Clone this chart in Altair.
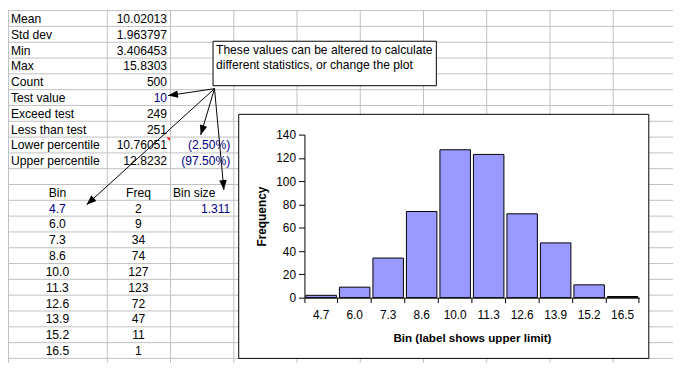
import math
import altair as alt
import pandas as pd

# ---------------- values ----------------
stat_labels = ["Mean", "Std dev", "Min", "Max", "Count", "Test value",
               "Exceed test", "Less than test", "Lower percentile", "Upper percentile"]
stat_values = ["10.02013", "1.963797", "3.406453", "15.8303", "500", "10",
               "249", "251", "10.76051", "12.8232"]
percentile_notes = ["(2.50%)", "(97.50%)"]
table_header = ["Bin", "Freq", "Bin size"]
bins = ["4.7", "6.0", "7.3", "8.6", "10.0", "11.3", "12.6", "13.9", "15.2", "16.5"]
freqs = [2, 9, 34, 74, 127, 123, 72, 47, 11, 1]
bin_size = "1.311"
note_lines = ["These values can be altered to calculate",
              "different statistics, or change the plot"]
x_title = "Bin (label shows upper limit)"
y_title = "Frequency"
y_ticks = [0, 20, 40, 60, 80, 100, 120, 140]

# ---------------- sheet layout ----------------
FONT = "Liberation Sans"
FS = 12.25
GRID = "#c0c0c0"
NAVY = "#000080"
COL_EDGES = [8, 108, 172, 236, 300, 364, 428, 492, 556, 620]
ROW_H = 16
TOP = 8
N_ROWS = 23

PLOT_L, PLOT_T, PLOT_W, PLOT_H = 308, 134, 339, 165
SVG_W, SVG_H = 673, 355

PX = alt.Scale(domain=[PLOT_L, PLOT_L + PLOT_W], zero=False, nice=False)
PY = alt.Scale(domain=[PLOT_T, PLOT_T + PLOT_H], zero=False, nice=False, reverse=True)


def row_top(r):
    return TOP + ROW_H * r


def base(r):
    return row_top(r) + 13


def X(f):
    return alt.X(f, type="quantitative", scale=PX, axis=None)


def Y(f):
    return alt.Y(f, type="quantitative", scale=PY, axis=None)


# grid lines
vgrid = pd.DataFrame({"x": [e + 0.5 for e in COL_EDGES], "y": [8] * len(COL_EDGES),
                      "y2": [380] * len(COL_EDGES)})
hgrid = pd.DataFrame({"y": [row_top(k) + 0.5 for k in range(N_ROWS)],
                      "x": [8] * N_ROWS, "x2": [690] * N_ROWS})

vlines = alt.Chart(vgrid).mark_rule(color=GRID, strokeWidth=1).encode(
    x=X("x"), y=Y("y"), y2="y2")
hlines = alt.Chart(hgrid).mark_rule(color=GRID, strokeWidth=1).encode(
    y=Y("y"), x=X("x"), x2="x2")

# sheet text cells
left_rows, right_rows, center_rows, note_rows = [], [], [], []
for r, (lab, val) in enumerate(zip(stat_labels, stat_values)):
    left_rows.append((COL_EDGES[0] + 3, base(r), lab, "black"))
    right_rows.append((COL_EDGES[2] - 3, base(r), val, NAVY if lab == "Test value" else "black"))
for i, note in enumerate(percentile_notes):
    right_rows.append((COL_EDGES[3] - 3, base(8 + i), note, NAVY))
hdr = 11
center_rows.append(((COL_EDGES[0] + COL_EDGES[1]) / 2, base(hdr), table_header[0], "black"))
center_rows.append(((COL_EDGES[1] + COL_EDGES[2]) / 2, base(hdr), table_header[1], "black"))
left_rows.append((COL_EDGES[2] + 3, base(hdr), table_header[2], "black"))
right_rows.append((COL_EDGES[3] - 3, base(hdr + 1), bin_size, NAVY))
for i, (b, f) in enumerate(zip(bins, freqs)):
    center_rows.append(((COL_EDGES[0] + COL_EDGES[1]) / 2, base(hdr + 1 + i), b,
                        NAVY if i == 0 else "black"))
    center_rows.append(((COL_EDGES[1] + COL_EDGES[2]) / 2, base(hdr + 1 + i), str(f), "black"))

BOX = (215.5, 39.5, 441.5, 84.5)
for i, line in enumerate(note_lines):
    note_rows.append((BOX[0] + 3, 52 + 16 * i, line, "black"))


def text_layer(rows, align):
    df = pd.DataFrame(rows, columns=["x", "y", "t", "c"])
    return alt.Chart(df).mark_text(align=align, baseline="alphabetic", font=FONT,
                                   fontSize=FS).encode(
        x=X("x"), y=Y("y"), text="t:N", color=alt.Color("c:N", scale=None))


sheet_left = text_layer(left_rows, "left")
sheet_right = text_layer(right_rows, "right")
sheet_center = text_layer(center_rows, "center")
note_text = text_layer(note_rows, "left")

# comment indicator
comment = alt.Chart(pd.DataFrame({"x": [171.8], "y": [136.8]})).mark_point(
    shape="M0,0L-1,0L0,1Z", size=49, filled=True, color="#ff0000", opacity=1,
    strokeWidth=0).encode(x=X("x"), y=Y("y"))

# callout box
box = alt.Chart(pd.DataFrame({"x": [BOX[0]], "y": [BOX[1]], "x2": [BOX[2]], "y2": [BOX[3]]})).mark_rect(
    fill="white", stroke="black", strokeWidth=1).encode(x=X("x"), y=Y("y"), x2="x2", y2="y2")

# arrows
origin = (217, 87.5)
tips = [(170, 94.5), (203, 134.5), (226.5, 190), (87.5, 205)]
arr = pd.DataFrame({
    "x": [origin[0]] * len(tips), "y": [origin[1]] * len(tips),
    "x2": [t[0] for t in tips], "y2": [t[1] for t in tips],
})
arr["a"] = [(math.degrees(math.atan2(tx - origin[0], -(ty - origin[1]))) + 360) % 360
            for tx, ty in tips]
arrow_lines = alt.Chart(arr).mark_rule(color="black", strokeWidth=1).encode(
    x=X("x"), y=Y("y"), x2="x2", y2="y2")
arrow_heads = alt.Chart(arr).mark_point(
    shape="M0,0L-0.38,1L0.38,1Z", size=400, filled=True, color="black", opacity=1,
    strokeWidth=0).encode(x=X("x2"), y=Y("y2"), angle=alt.Angle("a:Q", scale=None))

# chart frame
frame = alt.Chart(pd.DataFrame({"x": [241.5], "y": [113.5], "x2": [656.5], "y2": [360.5]})).mark_rect(
    fill="white", stroke="black", strokeWidth=1).encode(x=X("x"), y=Y("y"), x2="x2", y2="y2")

# ---------------- histogram ----------------
hist = pd.DataFrame({"Bin": bins, "Freq": freqs})
XB = alt.Scale(paddingInner=0, paddingOuter=0)
YB = alt.Scale(domain=[0, 140], nice=False, zero=True)

bars = alt.Chart(hist).mark_bar(
    color="#9999ff", stroke="black", strokeWidth=1, width=alt.RelativeBandSize(band=0.91)
).encode(
    x=alt.X("Bin:N", sort=None, scale=XB,
            axis=alt.Axis(orient="bottom", labels=False, ticks=True, tickSize=5, bandPosition=0,
                          domain=True, domainColor="black", tickColor="black",
                          title=x_title, titleFontSize=11.75, titleFontWeight="bold",
                          titleY=44, titleBaseline="alphabetic", grid=False, zindex=1)),
    y=alt.Y("Freq:Q", scale=YB,
            axis=alt.Axis(values=y_ticks, tickSize=6, labelPadding=3, labelFontSize=12,
                          domainColor="black", tickColor="black", labelColor="black",
                          title=y_title, titleFontSize=12, titleFontWeight="bold",
                          titleX=-39.7, titleBaseline="alphabetic", grid=False, zindex=1)),
)

bar_labels = alt.Chart(hist).mark_bar(opacity=0).encode(
    x=alt.X("Bin:N", sort=None, scale=XB,
            axis=alt.Axis(orient="bottom", ticks=False, tickSize=0, domain=False, labelAngle=0,
                          labelPadding=12.5, labelFontSize=12, labelColor="black",
                          bandPosition=0.5, title=None, grid=False, zindex=1)),
    y=alt.Y("Freq:Q", scale=YB, axis=None),
)

end_tick = alt.Chart(hist).mark_bar(opacity=0).encode(
    x=alt.X("Bin:N", sort=None, scale=XB,
            axis=alt.Axis(orient="bottom", values=[bins[-1]], bandPosition=1, labels=False,
                          domain=False, ticks=True, tickSize=5, tickColor="black",
                          title=None, grid=False, zindex=1)),
    y=alt.Y("Freq:Q", scale=YB, axis=None),
)

chart = alt.layer(
    vlines, hlines, sheet_left, sheet_right, sheet_center, comment,
    box, note_text, arrow_lines, arrow_heads, frame, bars, bar_labels, end_tick
).resolve_scale(x="independent", y="independent").resolve_axis(
    x="independent", y="independent"
).properties(
    width=PLOT_W, height=PLOT_H, autosize="none",
    padding={"left": PLOT_L - 8, "top": PLOT_T - 8,
             "right": SVG_W - (PLOT_L - 8) - PLOT_W,
             "bottom": SVG_H - (PLOT_T - 8) - PLOT_H},
).configure_view(strokeWidth=0).configure_axis(
    labelFont=FONT, titleFont=FONT, labelColor="black", titleColor="black"
)

chart.save("out.html", embed_options={"renderer": "svg", "actions": False})
